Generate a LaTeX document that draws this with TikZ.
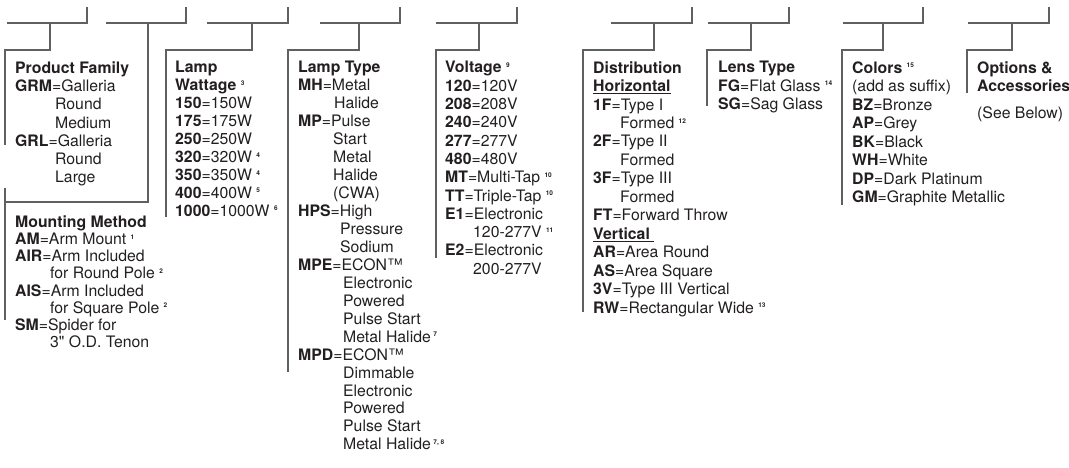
\documentclass[tikz,border=0pt]{standalone}
\usepackage{fontspec}
\setmainfont{TeX Gyre Heros}
\usepackage{xcolor}
\usepackage{tikz}

\definecolor{ink}{HTML}{231F20}
\definecolor{rulegray}{HTML}{5F6062}
\newcommand{\fn}[1]{\textsuperscript{\fontsize{6.5}{7}\selectfont\bfseries #1}}
\newcommand{\pad}[1]{\hspace*{#1pt}}
\tikzset{
	col/.style={anchor=north west, align=left, inner sep=0pt, text=ink,
		font=\fontsize{15.8}{#1}\selectfont},
	col/.default=18.2,
	bar/.style={rulegray, line width=1.2pt}
}

\begin{document}
\begin{tikzpicture}[x=1pt, y=-1pt]
			\useasboundingbox (0,0) rectangle (1069,468);
			% brackets: left/right of top bar, stem, corner y, box line x, box line end
			\foreach \l/\r/\s/\c/\b/\e in {7/87/50/50/5/145, 106/186/148/202/5/202,
				207/288/252/50/166/217, 320/400/359/50/288/372, 436/517/479/50/436/258,
				611/692/654/50/583/312, 708/789/751/50/707/106, 843/923/883/50/842/205,
				968/1049/1012/50/967/93}
			{
				\draw [bar] (\l,23) -- (\r,23) -- (\r,7) (\s,23) -- (\s,\c) -- (\b,\c) -- (\b,\e);
			}
			\draw [bar] (5,188) -- (5,320);

			\node[col=18.3] (family) at (15,61.2)
			{
				\textbf{Product Family}\\
				\textbf{GRM}=Galleria\\
				\pad{40}Round\\
				\pad{40}Medium\\
				\textbf{GRL}=Galleria\\
				\pad{40}Round\\
				\pad{40}Large
			};
			\node[col=17.1] (mounting) at (15,215.7)
			{
				\textbf{Mounting Method}\\
				\textbf{AM}=Arm Mount \fn{1}\\
				\textbf{AIR}=Arm Included\\
				\pad{35}for Round Pole \fn{2}\\
				\textbf{AIS}=Arm Included\\
				\pad{35}for Square Pole \fn{2}\\
				\textbf{SM}=Spider for\\
				\pad{35}3\textquotedbl{} O.D. Tenon
			};
			\node[col=17.9] (wattage) at (175,61.2)
			{
				\textbf{Lamp}\\
				\textbf{Wattage} \fn{3}\\
				\textbf{150}=150W\\
				\textbf{175}=175W\\
				\textbf{250}=250W\\
				\textbf{320}=320W \fn{4}\\
				\textbf{350}=350W \fn{4}\\
				\textbf{400}=400W \fn{5}\\
				\textbf{1000}=1000W \fn{6}
			};
			\node[col=17.95] (lamptype) at (298,61.2)
			{
				\textbf{Lamp Type}\\
				\textbf{MH}=Metal\\
				\pad{36}Halide\\
				\textbf{MP}=Pulse\\
				\pad{35}Start\\
				\pad{35}Metal\\
				\pad{35}Halide\\
				\pad{35}(CWA)\\
				\textbf{HPS}=High\\
				\pad{42}Pressure\\
				\pad{42}Sodium\\
				\textbf{MPE}=ECON™\\
				\pad{45}Electronic\\
				\pad{45}Powered\\
				\pad{45}Pulse Start\\
				\pad{45}Metal Halide\,\fn{7}\\
				\textbf{MPD}=ECON™\\
				\pad{45}Dimmable\\
				\pad{45}Electronic\\
				\pad{45}Powered\\
				\pad{45}Pulse Start\\
				\pad{45}Metal Halide\,\fn{7, 8}
			};
			\node[col=18.3] (voltage) at (445,61.2)
			{
				\textbf{Voltage} \fn{9}\\
				\textbf{120}=120V\\
				\textbf{208}=208V\\
				\textbf{240}=240V\\
				\textbf{277}=277V\\
				\textbf{480}=480V\\
				\textbf{MT}=Multi-Tap \fn{10}\\
				\textbf{TT}=Triple-Tap \fn{10}\\
				\textbf{E1}=Electronic\\
				\pad{28}120-277V \fn{11}\\
				\textbf{E2}=Electronic\\
				\pad{28}200-277V
			};
			\node[col=18.45] (distribution) at (593,61.2)
			{
				\textbf{Distribution}\\
				\textbf{\underline{Horizontal}}\\
				\textbf{1F}=Type I\\
				\pad{27}Formed \fn{12}\\
				\textbf{2F}=Type II\\
				\pad{27}Formed\\
				\textbf{3F}=Type III\\
				\pad{27}Formed\\
				\textbf{FT}=Forward Throw\\
				\textbf{\underline{Vertical\ }}\\
				\textbf{AR}=Area Round\\
				\textbf{AS}=Area Square\\
				\textbf{3V}=Type III Vertical\\
				\textbf{RW}=Rectangular Wide \fn{13}
			};
			\node[col] (lens) at (718,61.2)
			{
				\textbf{Lens Type}\\
				\textbf{FG}=Flat Glass \fn{14}\\
				\textbf{SG}=Sag Glass
			};
			\node[col=18.5] (colors) at (852,61.2)
			{
				\textbf{Colors} \fn{15}\\
				(add as suffix)\\
				\textbf{BZ}=Bronze\\
				\textbf{AP}=Grey\\
				\textbf{BK}=Black\\
				\textbf{WH}=White\\
				\textbf{DP}=Dark Platinum\\
				\textbf{GM}=Graphite Metallic
			};
			\node[col] (options) at (977,61.2)
			{
				\textbf{Options \&}\\
				\textbf{Accessories}\\[9pt]
				(See Below)
			};
		\end{tikzpicture}
\end{document}
